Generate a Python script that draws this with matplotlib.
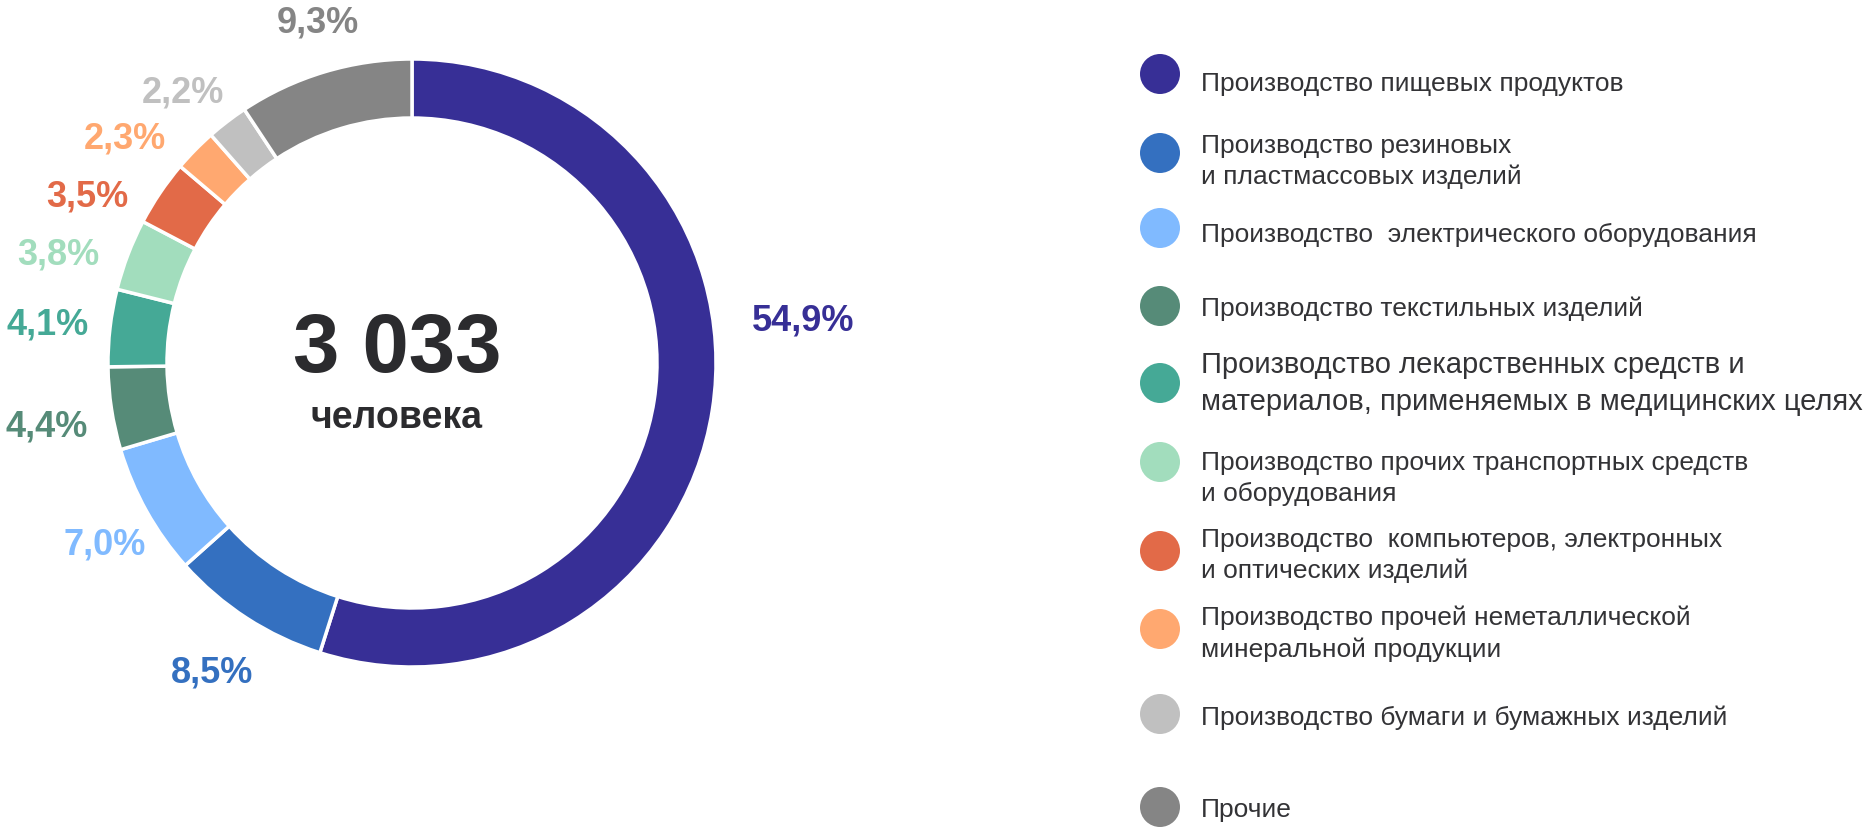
import matplotlib
matplotlib.use("Agg")
import matplotlib.pyplot as plt
from matplotlib.patches import Circle

# ---------------- data ----------------
categories = [
    "Производство пищевых продуктов",
    "Производство резиновых\nи пластмассовых изделий",
    "Производство  электрического оборудования",
    "Производство текстильных изделий",
    "Производство лекарственных средств и\nматериалов, применяемых в медицинских целях",
    "Производство прочих транспортных средств\nи оборудования",
    "Производство  компьютеров, электронных\nи оптических изделий",
    "Производство прочей неметаллической\nминеральной продукции",
    "Производство бумаги и бумажных изделий",
    "Прочие",
]
shares = [54.9, 8.5, 7.0, 4.4, 4.1, 3.8, 3.5, 2.3, 2.2, 9.3]
share_labels = ["54,9%", "8,5%", "7,0%", "4,4%", "4,1%", "3,8%", "3,5%", "2,3%", "2,2%", "9,3%"]
total_value = "3 033"
total_unit = "человека"

# ---------------- style / layout ----------------
colors = ["#372F96", "#3470C0", "#80BAFF", "#568B78", "#45A996",
          "#A2DDBD", "#E26A48", "#FFA870", "#C0C0C0", "#858585"]
W, H = 1870, 827
CX, CY, R, RING = 412, 363, 304, 59
# label centres x / baseline y (pixel coords, y from top)
label_pos = [(803, 331), (212, 683), (105, 555), (47, 436), (48, 335),
             (58, 264), (87, 206), (125, 148), (183, 103), (318, 32)]
legend_marker_y = [74, 153, 228, 306, 383, 462, 551, 629, 714, 807]
legend_base_y = [91, 153, 242, 316, 373, 470, 547, 625, 725, 817]
legend_size = [19, 19, 19, 19, 21, 19, 19, 19, 19, 19]
legend_step = [31, 31, 31, 31, 37, 31, 31, 32, 31, 31]

font = "Liberation Sans"

fig = plt.figure(figsize=(W / 100, H / 100), dpi=100)
ax = fig.add_axes([0, 0, 1, 1])

ax.pie(shares, colors=colors, startangle=90, counterclock=False,
       center=(CX, H - CY), radius=R,
       wedgeprops=dict(width=RING, edgecolor="white", linewidth=2.5))
ax.set_xlim(0, W)
ax.set_ylim(0, H)
ax.set_aspect("equal")
ax.axis("off")

for (lx, ly), txt, c in zip(label_pos, share_labels, colors):
    ax.text(lx, H - ly, txt, color=c, fontsize=26, fontweight="bold",
            family=font, ha="center", va="baseline")

ax.text(397, H - 372, total_value, color="#2B2B2E", fontsize=60, fontweight="bold",
        family=font, ha="center", va="baseline")
ax.text(397, H - 428, total_unit, color="#2B2B2E", fontsize=27, fontweight="bold",
        family=font, ha="center", va="baseline")

for cat, c, my, by, fs, step in zip(categories, colors, legend_marker_y,
                                    legend_base_y, legend_size, legend_step):
    ax.add_patch(Circle((1160, H - my), 20, facecolor=c, edgecolor="none"))
    for i, line in enumerate(cat.split("\n")):
        ax.text(1201, H - (by + i * step), line, color="#333336", fontsize=fs,
                family=font, ha="left", va="baseline")

fig.savefig("out.png", dpi=100)
